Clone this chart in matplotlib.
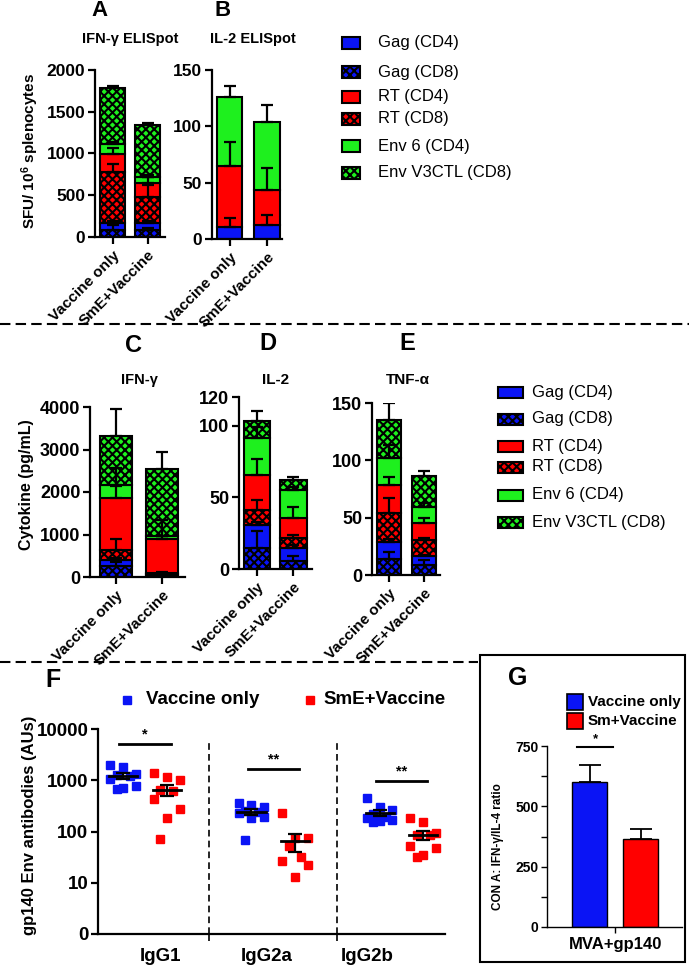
import numpy as np
import matplotlib
matplotlib.use('Agg')
import matplotlib.pyplot as plt
from matplotlib.patches import Rectangle

plt.rcParams['font.family'] = ['Liberation Sans', 'DejaVu Sans']
plt.rcParams['font.weight'] = 'bold'
plt.rcParams['mathtext.default'] = 'regular'
plt.rcParams['hatch.linewidth'] = 1.5
plt.rcParams['axes.linewidth'] = 1.6
plt.rcParams['axes.spines.top'] = False
plt.rcParams['axes.spines.right'] = False

# ---------------- data ----------------
groups = ['Vaccine only', 'SmE+Vaccine']
stack_labels = ['Gag (CD8)', 'Gag (CD4)', 'RT (CD8)', 'RT (CD4)', 'Env 6 (CD4)', 'Env V3CTL (CD8)']
legend_labels = ['Gag (CD4)', 'Gag (CD8)', 'RT (CD4)', 'RT (CD8)', 'Env 6 (CD4)', 'Env V3CTL (CD8)']

# each row: one stack segment (bottom to top), columns: groups
ifng_elispot = [[80, 80], [88, 88], [612, 312], [212, 168], [120, 72], [668, 620]]
ifng_elispot_err = [[60, 30], [20, 20], [90, 140], [76, 72], [20, 20], [28, 20]]

il2_elispot = [[0, 0], [11, 12.4], [0, 0], [53.5, 31.4], [61.5, 59.8], [0, 0]]
il2_elispot_err = [[0, 0], [8, 9], [0, 0], [22, 19], [10, 15], [0, 0]]

ifng_cyt = [[250, 40], [150, 30], [245, 30], [1205, 805], [315, 50], [1155, 1580]]
ifng_cyt_err = [[100, 10], [40, 10], [260, 10], [300, 440], [390, 10], [630, 395]]

il2_cyt = [[14.7, 5.3], [16, 9.4], [10.2, 6.9], [24.9, 14], [25.6, 19.8], [11.6, 6.9]]
il2_cyt_err = [[11.6, 3.5], [2, 2], [7, 2], [11, 7.7], [8, 2], [7.5, 1.7]]

tnfa_cyt = [[13.7, 8.7], [15.3, 7.9], [25.4, 13.9], [24.1, 14.5], [23.2, 14.6], [33.5, 26.7]]
tnfa_cyt_err = [[6, 4.3], [2, 1], [13, 2], [7, 5], [12, 3], [14.5, 4.4]]

igg_classes = ['IgG1', 'IgG2a', 'IgG2b']
igg_vaccine = [
    [1850, 2000, 1200, 1250, 1300, 1050, 700, 680, 760],
    [365, 329, 305, 255, 244, 226, 195, 181, 68],
    [450, 300, 260, 215, 195, 180, 165, 160, 150],
]
igg_sme = [
    [1406, 1175, 1012, 646, 626, 430, 271, 181, 70],
    [233, 74, 74, 51, 32, 27, 22, 13],
    [186, 156, 92, 85, 85, 51, 47, 35, 32],
]
igg_sig = ['*', '**', '**']
igg_sig_level = [5090, 1660, 975]

g_groups = ['Vaccine only', 'Sm+Vaccine']
g_ratio = [600, 365]
g_ratio_err = [72, 42]

# ---------------- style ----------------
BLUE, RED, GREEN = '#0a14f5', '#ff0000', '#1ef01e'
seg_color = {'Gag': BLUE, 'RT': RED, 'Env': GREEN}

W, H = 689, 968
fig = plt.figure(figsize=(W / 100, H / 100), dpi=100)


def add_ax(l, t, r, b):
    return fig.add_axes([l / W, 1 - b / H, (r - l) / W, (b - t) / H])


def stacked(ax, vals, errs, width, xlim, ymax, yticks, fs):
    x = np.arange(len(groups))
    bottom = np.zeros(len(groups))
    for lab, v, e in zip(stack_labels, vals, errs):
        v = np.array(v, float)
        if not v.any():
            continue
        hatch = 'xxxx' if 'CD8' in lab else None
        ax.bar(x, v, width, bottom=bottom, color=seg_color[lab.split()[0]],
               hatch=hatch, edgecolor='black', linewidth=1.5, zorder=2)
        top = bottom + v
        ax.errorbar(x, top, yerr=[np.zeros(len(x)), e], fmt='none', ecolor='black',
                    elinewidth=1.6, capsize=4.5, capthick=1.6, zorder=3)
        bottom = top
    ax.set_xlim(*xlim)
    ax.set_ylim(0, ymax)
    ax.set_yticks(yticks)
    ax.set_xticks(x)
    ax.set_xticklabels(groups, rotation=45, ha='right', va='top',
                       rotation_mode='anchor', fontsize=11)
    ax.tick_params(axis='y', width=1.6, length=5, labelsize=fs, pad=2)
    ax.tick_params(axis='x', width=1.6, length=5, pad=3)


axA = add_ax(95, 70, 165, 237)
stacked(axA, ifng_elispot, ifng_elispot_err, 0.71, (-0.5, 1.5), 2000, [0, 500, 1000, 1500, 2000], 12.5)
axB = add_ax(212, 70, 282, 239)
stacked(axB, il2_elispot, il2_elispot_err, 0.67, (-0.467, 1.4), 150, [0, 50, 100, 150], 12.5)
axC = add_ax(90, 407, 185, 577)
stacked(axC, ifng_cyt, ifng_cyt_err, 0.7, (-0.565, 1.5), 4000, [0, 1000, 2000, 3000, 4000], 13)
axD = add_ax(239, 397, 312, 569)
stacked(axD, il2_cyt, il2_cyt_err, 0.73, (-0.49, 1.51), 120, [0, 50, 100, 120], 13)
axE = add_ax(372, 403, 440, 575)
stacked(axE, tnfa_cyt, tnfa_cyt_err, 0.69, (-0.486, 1.457), 150, [0, 50, 100, 150], 13)

# ---------------- panel F ----------------
axF = add_ax(98, 729, 445, 934)
axF.set_yscale('log')
axF.set_ylim(1, 10000)
axF.set_xlim(-0.367, 2.34)
axF.set_yticks([1, 10, 100, 1000, 10000])
axF.set_yticklabels(['0', '10', '100', '1000', '10000'])
axF.minorticks_off()
axF.tick_params(axis='y', width=1.6, length=5, labelsize=13.5, pad=2)
axF.set_xticks([0.5, 1.5])
axF.set_xticklabels([])
axF.tick_params(axis='x', width=1.2, length=5)
axF.vlines([0.5, 1.5], 1, 6100, colors='black', linestyles=(0, (4, 2.5)), linewidth=1.2)
label_pos = [0.12, 0.95, 1.73]
for p, lab in zip(label_pos, igg_classes):
    axF.text(p, -0.11, lab, transform=axF.get_xaxis_transform(), ha='center', va='center', fontsize=13.5)


def spread(n, w):
    pattern = np.array([-1, 0, 1, -0.5, 0.5, -1, 1, 0, -0.5, 0.5])
    return pattern[:n] * w


for i in range(len(igg_classes)):
    for vals, off, col in [(igg_vaccine[i], -0.17, BLUE), (igg_sme[i], 0.17, RED)]:
        v = np.array(vals, float)
        order = np.argsort(-v)
        xs = np.empty(len(v))
        xs[order] = i + off + spread(len(v), 0.1)
        axF.plot(xs, v, 's', color=col, ms=5.8, mec=col, zorder=2, clip_on=False)
        m = v.mean()
        sem = v.std(ddof=1) / np.sqrt(len(v))
        axF.plot([i + off - 0.11, i + off + 0.11], [m, m], color='black', lw=2, zorder=3)
        axF.errorbar([i + off], [m], yerr=[[sem], [sem]], fmt='none', ecolor='black',
                     elinewidth=1.6, capsize=5, capthick=1.6, zorder=3)
    axF.plot([i - 0.2, i + 0.2], [igg_sig_level[i]] * 2, color='black', lw=2)
    axF.text(i, igg_sig_level[i] * 1.12, igg_sig[i], ha='center', va='bottom', fontsize=10.5)

# ---------------- panel G ----------------
axG = add_ax(547, 746, 682, 927)
gx = np.arange(len(g_groups))
axG.bar(gx, g_ratio, 0.69, color=[BLUE, RED], edgecolor='black', linewidth=1.0, zorder=2)
axG.errorbar(gx, g_ratio, yerr=[np.zeros(len(gx)), g_ratio_err], fmt='none', ecolor='black',
             elinewidth=1.3, capsize=8, capthick=1.3, zorder=3)
axG.set_xlim(-0.833, 1.81)
axG.set_ylim(0, 750)
axG.set_yticks([0, 250, 500, 750])
axG.set_yticks([125, 375, 625], minor=True)
axG.set_xticks([0.5])
axG.set_xticklabels(['MVA+gp140'], fontsize=12)
for s in ['left', 'bottom']:
    axG.spines[s].set_linewidth(1.0)
axG.tick_params(axis='y', which='both', width=1.0, length=4, labelsize=10, pad=2)
axG.tick_params(axis='x', width=1.0, length=4, pad=3)
axG.plot([-0.245, 0.46], [746, 746], color='black', lw=1.5, clip_on=False)
axG.text(0.11, 752, '*', ha='center', va='bottom', fontsize=9.5)

# ---------------- overlay: titles, legends, dividers ----------------
ov = fig.add_axes([0, 0, 1, 1])
ov.set_xlim(0, W)
ov.set_ylim(H, 0)
ov.axis('off')

for txt, x, y, fs in [('A', 99, 11, 16), ('B', 223, 11, 16), ('C', 133, 345, 17),
                      ('D', 268, 343, 17), ('E', 407, 343, 17), ('F', 53, 680, 18), ('G', 518, 678, 18)]:
    ov.text(x, y, txt, ha='center', va='center', fontsize=fs)
for txt, x, y, fs in [('IFN-γ ELISpot', 130, 39, 10.5), ('IL-2 ELISpot', 253, 39, 10.5),
                      ('IFN-γ', 139, 380, 10.5), ('IL-2', 276, 380, 11), ('TNF-α', 408, 380, 11)]:
    ov.text(x, y, txt, ha='center', va='center', fontsize=fs)

ov.text(30, 151, 'SFU/ 10$^{6}$ splenocytes', rotation=90, ha='center', va='center', fontsize=11)
ov.text(26, 485, 'Cytokine (pg/mL)', rotation=90, ha='center', va='center', fontsize=11.5)
ov.text(30, 825, 'gp140 Env antibodies (AUs)', rotation=90, ha='center', va='center', fontsize=12)
ov.text(498, 847, 'CON A: IFN-γ/IL-4 ratio', rotation=90, ha='center', va='center', fontsize=8.5)


def seg_legend(x0, w, h, ys, tx):
    for lab, y in zip(legend_labels, ys):
        hatch = 'xxxx' if 'CD8' in lab else None
        ov.add_patch(Rectangle((x0, y - h / 2), w, h, facecolor=seg_color[lab.split()[0]],
                               hatch=hatch, edgecolor='black', linewidth=1.5))
        ov.text(tx, y, lab, ha='left', va='center', fontsize=12, fontweight='normal')


seg_legend(342, 18, 12, [43, 72, 97, 119, 146, 173], 378)
seg_legend(498, 25, 11, [392, 419, 446, 467, 495, 522], 532)

# panel F legend
ov.plot([127], [700], 's', color=BLUE, ms=6)
ov.text(146, 700, 'Vaccine only', ha='left', va='center', fontsize=13.5)
ov.plot([310], [700], 's', color=RED, ms=6)
ov.text(323, 700, 'SmE+Vaccine', ha='left', va='center', fontsize=13.5)

# panel G legend
for y, col, lab in zip([702, 721], [BLUE, RED], g_groups):
    ov.add_patch(Rectangle((567, y - 8), 16, 16, facecolor=col, edgecolor='black', linewidth=1.2))
    ov.text(588, y, lab, ha='left', va='center', fontsize=11)

# dividers and box
ov.plot([0, 689], [324, 324], color='black', lw=1.5, ls=(0, (5, 2.5)))
ov.plot([0, 478], [662, 662], color='black', lw=1.5, ls=(0, (5, 2.5)))
ov.add_patch(Rectangle((480, 655), 205, 307, fill=False, edgecolor='black', linewidth=1.5))

fig.savefig('out.png', dpi=100)
